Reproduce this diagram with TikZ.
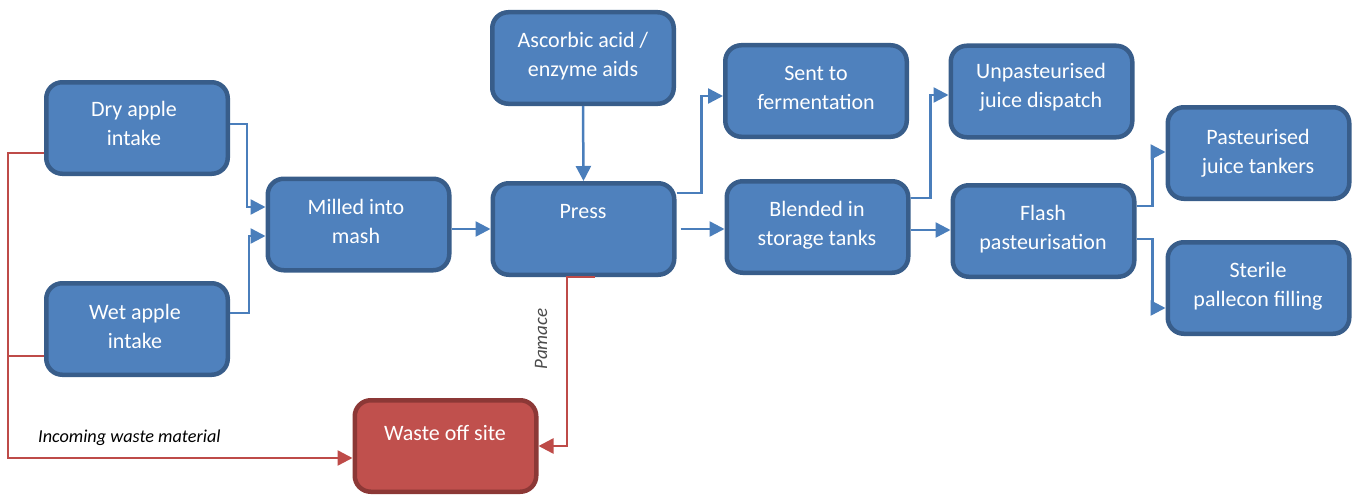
\documentclass[tikz,border=0pt]{standalone}
\usepackage{fontspec}
\setmainfont{Carlito}
\usetikzlibrary{arrows.meta,calc}
\definecolor{bfill}{HTML}{4F81BD}
\definecolor{bdraw}{HTML}{385D8A}
\definecolor{rfill}{HTML}{C0504D}
\definecolor{rdraw}{HTML}{8C3836}
\definecolor{bline}{HTML}{4A7EBB}
\definecolor{rline}{HTML}{BE4B48}
\begin{document}
\begin{tikzpicture}[x=1pt,y=-1pt,
 box/.style={draw=bdraw,fill=bfill,line width=4.5pt,rounded corners=16pt,minimum width=181.5pt,minimum height=91.5pt,inner sep=0pt},
 rbox/.style={box,draw=rdraw,fill=rfill},
 txt/.style={text=white,font=\fontsize{22}{29}\selectfont,align=center,inner sep=0pt},
 con/.style={draw=bline,line width=2.5pt,-{Triangle[length=15pt,width=15pt]}},
 rcon/.style={draw=rline,line width=2.5pt},
 rarr/.style={rcon,-{Triangle[length=15pt,width=15pt]}},
]
\useasboundingbox (0,0) rectangle (1357,495);

\node[box] (dry) at (137,128) {};
\node[box] (wet) at (137,329) {};
\node[box] (mill) at (358.5,224.5) {};
\node[box] (asc) at (583,58) {};
\node[box] (press) at (583.5,229) {};
\node[box] (sent) at (816,91) {};
\node[box] (blend) at (817.5,227) {};
\node[box] (unp) at (1041.5,91.5) {};
\node[box] (flash) at (1043.5,231) {};
\node[box] (past) at (1258.5,153) {};
\node[box] (ster) at (1258.5,288) {};
\node[rbox] (waste) at (445.5,446) {};

\node[txt] (drytx) at (134,123) {Dry apple\\intake};
\node[txt] (wettx) at (135,326) {Wet apple\\intake};
\node[txt] (milltx) at (356,221) {Milled into\\mash};
\node[txt] (asctx) at (583,56.5) {Ascorbic acid /\\enzyme aids};
\node[txt] (presstx) at (583,212) {Press};
\node[txt] (senttx) at (816,87.5) {Sent to\\fermentation};
\node[txt] (blendtx) at (817,225) {Blended in\\storage tanks};
\node[txt] (unptx) at (1041,87.5) {Unpasteurised\\juice dispatch};
\node[txt] (flashtx) at (1043,229) {Flash\\pasteurisation};
\node[txt] (pasttx) at (1258,153) {Pasteurised\\juice tankers};
\node[txt] (stertx) at (1258,286.5) {Sterile\\pallecon filling};
\node[txt] (wastetx) at (445,433) {Waste off site};

\node[font=\fontsize{19}{19}\selectfont\itshape,text=black!70,rotate=90,inner sep=0pt] (pam) at (541,339) {Pamace};
\node[font=\fontsize{18.2}{20}\selectfont\itshape,anchor=west,inner sep=0pt] (inc) at (38,438) {Incoming waste material};

\draw[con] ([yshift=4pt]dry.east) -- ++(17,0) |- ([yshift=17.5pt]mill.west);
\draw[con] ([yshift=16pt]wet.east) -- ++(19,0) |- ([yshift=-11.5pt]mill.west);
\draw[con] ([yshift=-4.5pt]mill.east) -- (press.west);
\draw[con] (asc.south) -- (press.north);
\draw[con] ([yshift=36pt]press.east) -- ++(25,0) |- ([yshift=-5pt]sent.west);
\draw[con] ([xshift=4pt]press.east) -- (press.east -| blend.west);
\draw[con] ([yshift=29pt]blend.east) -- ++(20,0) |- ([yshift=-3.5pt]unp.west);
\draw[con] ([yshift=-3pt]blend.east) -- ([yshift=-3pt]blend.east -| flash.west);
\draw[con] ([yshift=25pt]flash.east) -- ++(16,0) |- ([yshift=1pt]past.west);
\draw[con] ([yshift=-8pt]flash.east) -- ++(16,0) |- ([yshift=-20pt]ster.west);

\draw[rarr] ([yshift=-25pt]dry.west) -- ++(-36,0) coordinate (rl) |- ([yshift=-12pt]waste.west);
\draw[rcon] ([yshift=-27pt]wet.west) -- ([yshift=-27pt]wet.west -| rl);
\draw[rarr] ([xshift=11.5pt]press.south) -- ([xshift=-16.5pt]press.south) |- (waste.east);
\end{tikzpicture}
\end{document}
